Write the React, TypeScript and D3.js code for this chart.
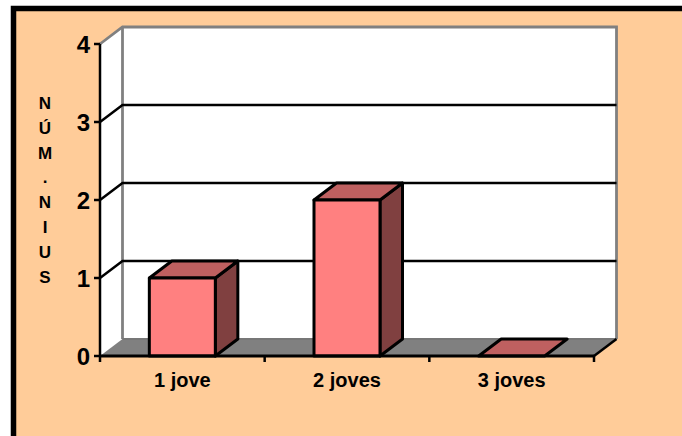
import React from "react";
import * as d3 from "d3";

const categories = ["1 jove", "2 joves", "3 joves"];
const values = [1, 2, 0];
const yTicks = [0, 1, 2, 3, 4];
const yTitle = ["N", "Ú", "M", ".", "N", "I", "U", "S"];

const width = 682;
const height = 436;
const font = "'Liberation Sans', Arial, sans-serif";

// front plane of the fake 3D box, back plane is offset by depth
const x0 = 100;
const x1 = 594;
const yBottom = 356;
const yTop = 44;
const depthX = 22.5;
const depthY = -17;

const BG = "#FFCC99";
const FRONT = "#FF8080";
const TOP = "#BF6060";
const SIDE = "#804040";
const GREY = "#808080";

const xScale = d3.scaleBand<string>().domain(categories).range([x0, x1]);
const yScale = d3.scaleLinear().domain([0, 4]).range([yBottom, yTop]);
const poly = d3.line();

export default function App() {
  const barW = 66;
  const backLeft = x0 + depthX;
  const backRight = x1 + depthX;
  const backTop = yTop + depthY;
  const backBottom = yBottom + depthY;
  return (
    <svg
      width={width}
      height={height}
      style={{ position: "absolute", left: 0, top: 0, fontFamily: font, fontWeight: "bold" }}
    >
      <rect width={width} height={height} fill="white" />
      <rect x={13.5} y={8.5} width={width + 20} height={height + 20} fill={BG} stroke="black" strokeWidth={5.5} />

      {/* walls */}
      <path
        d={poly([[x0, yTop], [backLeft, backTop], [backRight, backTop], [backRight, backBottom], [x1, yBottom], [x0, yBottom]])! + "Z"}
        fill="white"
      />
      <path
        d={poly([[x0, yTop], [backLeft, backTop], [backRight, backTop], [backRight, backBottom]])!}
        fill="none"
        stroke={GREY}
        strokeWidth={2.8}
      />
      <line x1={backLeft} x2={backLeft} y1={backTop} y2={backBottom} stroke={GREY} strokeWidth={2.8} />

      {/* floor */}
      <path
        d={poly([[x0, yBottom], [backLeft, backBottom], [backRight, backBottom], [x1, yBottom]])! + "Z"}
        fill={GREY}
      />
      <line x1={backLeft} x2={backRight} y1={backBottom} y2={backBottom} stroke="#777" strokeWidth={2} />

      {/* gridlines */}
      {yTicks.slice(1, 4).map((t) => (
        <path
          key={t}
          d={poly([[x0, yScale(t)], [backLeft, yScale(t) + depthY], [backRight, yScale(t) + depthY]])!}
          fill="none"
          stroke="black"
          strokeWidth={2.5}
        />
      ))}
      <line x1={x1} x2={backRight} y1={yBottom} y2={backBottom} stroke="black" strokeWidth={2.5} />

      {/* bars */}
      {categories.map((c, i) => {
        const left = xScale(c)! + (xScale.bandwidth() - barW) / 2;
        const right = left + barW;
        const y = yScale(values[i]);
        return (
          <g key={c} stroke="black" strokeWidth={3} strokeLinejoin="round">
            {values[i] > 0 && (
              <path
                d={poly([[right, y], [right + depthX, y + depthY], [right + depthX, yBottom + depthY], [right, yBottom]])! + "Z"}
                fill={SIDE}
              />
            )}
            <path
              d={poly([[left, y], [left + depthX, y + depthY], [right + depthX, y + depthY], [right, y]])! + "Z"}
              fill={TOP}
            />
            {values[i] > 0 && <rect x={left} y={y} width={barW} height={yBottom - y} fill={FRONT} />}
          </g>
        );
      })}

      {/* axes */}
      <line x1={x0} x2={x0} y1={yTop} y2={yBottom + 6} stroke="black" strokeWidth={2.5} />
      <line x1={x0} x2={x1} y1={yBottom} y2={yBottom} stroke="black" strokeWidth={3} />
      {yTicks.map((t) => (
        <g key={t}>
          <line x1={x0 - 6} x2={x0} y1={yScale(t)} y2={yScale(t)} stroke="black" strokeWidth={2.5} />
          <text x={x0 - 10} y={yScale(t)} dy="0.36em" textAnchor="end" fontSize={24}>
            {t}
          </text>
        </g>
      ))}
      {categories.map((c) => (
        <g key={c}>
          <line
            x1={xScale(c)! + xScale.bandwidth()}
            x2={xScale(c)! + xScale.bandwidth()}
            y1={yBottom}
            y2={yBottom + 6}
            stroke="black"
            strokeWidth={2.5}
          />
          <text x={xScale(c)! + xScale.bandwidth() / 2} y={387} textAnchor="middle" fontSize={20}>
            {c}
          </text>
        </g>
      ))}

      {/* stacked axis title */}
      {yTitle.map((ch, i) => (
        <text key={i} x={45} y={109 + i * 24.8} textAnchor="middle" fontSize={17}>
          {ch}
        </text>
      ))}
    </svg>
  );
}
